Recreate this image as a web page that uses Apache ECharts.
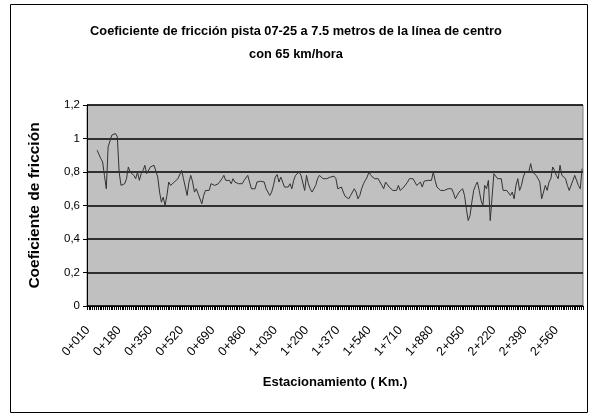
<!DOCTYPE html>
<html>
<head>
<meta charset="utf-8">
<script src="https://cdn.jsdelivr.net/npm/echarts@6/dist/echarts.min.js"></script>
<style>
  html, body { margin: 0; padding: 0; background: #fff; }
  #chart { width: 592px; height: 419px; }
</style>
</head>
<body>
<div id="chart"></div>
<script>
// estaciones cada 10 m, de 0+010 a 2+700
const stations = [];
for (let m = 10; m <= 2700; m += 10) {
  const km = Math.floor(m / 1000);
  const rest = String(m % 1000).padStart(3, '0');
  stations.push(km + '+' + rest);
}

// los primeros puntos no tienen lectura
const friction = [
  null, null, null, null, null,
  0.93, 0.92, 0.88, 0.86, 0.78, 0.70, 0.95, 0.94, 1.02, 1.03,
  1.03, 1.01, 0.80, 0.72, 0.71, 0.73, 0.76, 0.83, 0.80, 0.79,
  0.78, 0.76, 0.80, 0.75, 0.79, 0.81, 0.84, 0.79, 0.78, 0.83,
  0.82, 0.84, 0.83, 0.77, 0.68, 0.62, 0.65, 0.60, 0.66, 0.74,
  0.72, 0.71, 0.74, 0.75, 0.76, 0.77, 0.81, 0.76, 0.71, 0.66,
  0.74, 0.78, 0.74, 0.68, 0.70, 0.67, 0.68, 0.61, 0.66, 0.69,
  0.70, 0.69, 0.73, 0.72, 0.72, 0.72, 0.73, 0.73, 0.76, 0.78,
  0.75, 0.76, 0.75, 0.73, 0.76, 0.74, 0.75, 0.73, 0.74, 0.73,
  0.75, 0.75, 0.78, 0.74, 0.70,
  0.69, 0.70, 0.74, 0.73, 0.745, 0.74, 0.74, 0.70, 0.69, 0.66,
  0.68, 0.72, 0.77, 0.785, 0.74, 0.77, 0.78, 0.71, 0.705, 0.71,
  0.73, 0.70, 0.75, 0.78, 0.79, 0.80, 0.78, 0.79, 0.69, 0.78,
  0.73, 0.70, 0.68, 0.69, 0.72, 0.76, 0.78, 0.78, 0.76, 0.75,
  0.76, 0.76, 0.77, 0.77, 0.775,
  0.76, 0.70, 0.69, 0.71, 0.68, 0.655, 0.66, 0.64, 0.66, 0.67,
  0.70, 0.68, 0.64, 0.66, 0.70, 0.73, 0.75, 0.77, 0.80, 0.78,
  0.77, 0.76, 0.765, 0.76, 0.765, 0.72, 0.70, 0.74, 0.73, 0.71,
  0.72, 0.69, 0.68, 0.69, 0.72, 0.69, 0.70, 0.71, 0.72, 0.74,
  0.76, 0.77, 0.76, 0.74, 0.72,
  0.72, 0.74, 0.71, 0.745, 0.745, 0.75, 0.76, 0.75, 0.80, 0.75,
  0.71, 0.72, 0.69, 0.70, 0.69, 0.68, 0.70, 0.70, 0.70, 0.675,
  0.64, 0.66, 0.68, 0.69, 0.70, 0.66, 0.58, 0.51, 0.54, 0.62,
  0.69, 0.72, 0.74, 0.69, 0.63, 0.60, 0.72, 0.70, 0.75, 0.51,
  0.65, 0.79, 0.78, 0.76, 0.77,
  0.76, 0.69, 0.69, 0.69, 0.68, 0.66, 0.68, 0.64, 0.72, 0.76,
  0.69, 0.72, 0.77, 0.80, 0.79, 0.80, 0.85, 0.80, 0.79, 0.78,
  0.76, 0.74, 0.64, 0.64, 0.72, 0.69, 0.74, 0.76, 0.83, 0.81,
  0.78, 0.76, 0.84, 0.78, 0.77, 0.76, 0.72, 0.69, 0.70, 0.75,
  0.78, 0.78, 0.72, 0.70, 0.82
];

const yTicks = [0, 0.2, 0.4, 0.6, 0.8, 1, 1.2];

const chart = echarts.init(document.getElementById('chart'));
const font = '"Liberation Sans Narrow", "Liberation Sans", Arial, sans-serif';

const option = {
  backgroundColor: '#fff',
  animation: false,
  graphic: [
    {
      type: 'rect',
      shape: { x: 10.5, y: 4.5, width: 577, height: 408 },
      style: { fill: 'none', stroke: '#000', lineWidth: 1 },
      silent: true
    }
  ],
  title: {
    text: 'Coeficiente de fricción pista 07-25 a 7.5 metros de la línea de centro\ncon 65 km/hora',
    left: 'center',
    top: 15,
    textStyle: {
      fontFamily: font,
      fontSize: 12.8,
      fontWeight: 'bold',
      color: '#000',
      lineHeight: 23
    }
  },
  grid: {
    left: 87,
    right: 9,
    top: 105,
    bottom: 113,
    show: true,
    backgroundColor: '#c0c0c0',
    borderColor: '#808080',
    borderWidth: 1
  },
  xAxis: {
    type: 'category',
    data: stations,
    boundaryGap: true,
    name: 'Estacionamiento ( Km.)',
    nameLocation: 'middle',
    nameGap: 70,
    nameTextStyle: {
      fontFamily: font,
      fontSize: 13,
      fontWeight: 'bold',
      color: '#000'
    },
    axisLine: { lineStyle: { color: '#000', width: 1 } },
    axisTick: { show: true, interval: 0, length: 4, lineStyle: { color: '#000' } },
    axisLabel: {
      interval: 16,
      rotate: 48,
      fontFamily: 'Liberation Sans, Arial, sans-serif',
      fontSize: 12.5,
      color: '#000',
      margin: 22
    },
    splitLine: { show: false }
  },
  yAxis: {
    type: 'value',
    min: yTicks[0],
    max: yTicks[yTicks.length - 1],
    interval: 0.2,
    name: 'Coeficiente de fricción',
    nameLocation: 'middle',
    nameGap: 44,
    nameTextStyle: {
      fontFamily: font,
      fontSize: 15.5,
      fontWeight: 'bold',
      color: '#000'
    },
    axisLine: { show: true, lineStyle: { color: '#000', width: 1 } },
    axisTick: { show: true, length: 4, lineStyle: { color: '#000' } },
    axisLabel: {
      fontFamily: 'Liberation Sans, Arial, sans-serif',
      fontSize: 11.5,
      color: '#000',
      margin: 7,
      formatter: v => String(Math.round(v * 10) / 10).replace('.', ',')
    },
    splitLine: { show: true, lineStyle: { color: '#000', width: 1.5 } }
  },
  series: [
    {
      type: 'line',
      data: friction,
      showSymbol: false,
      connectNulls: false,
      lineStyle: { color: '#333', width: 1 }
    }
  ]
};

chart.setOption(option);
</script>
</body>
</html>
